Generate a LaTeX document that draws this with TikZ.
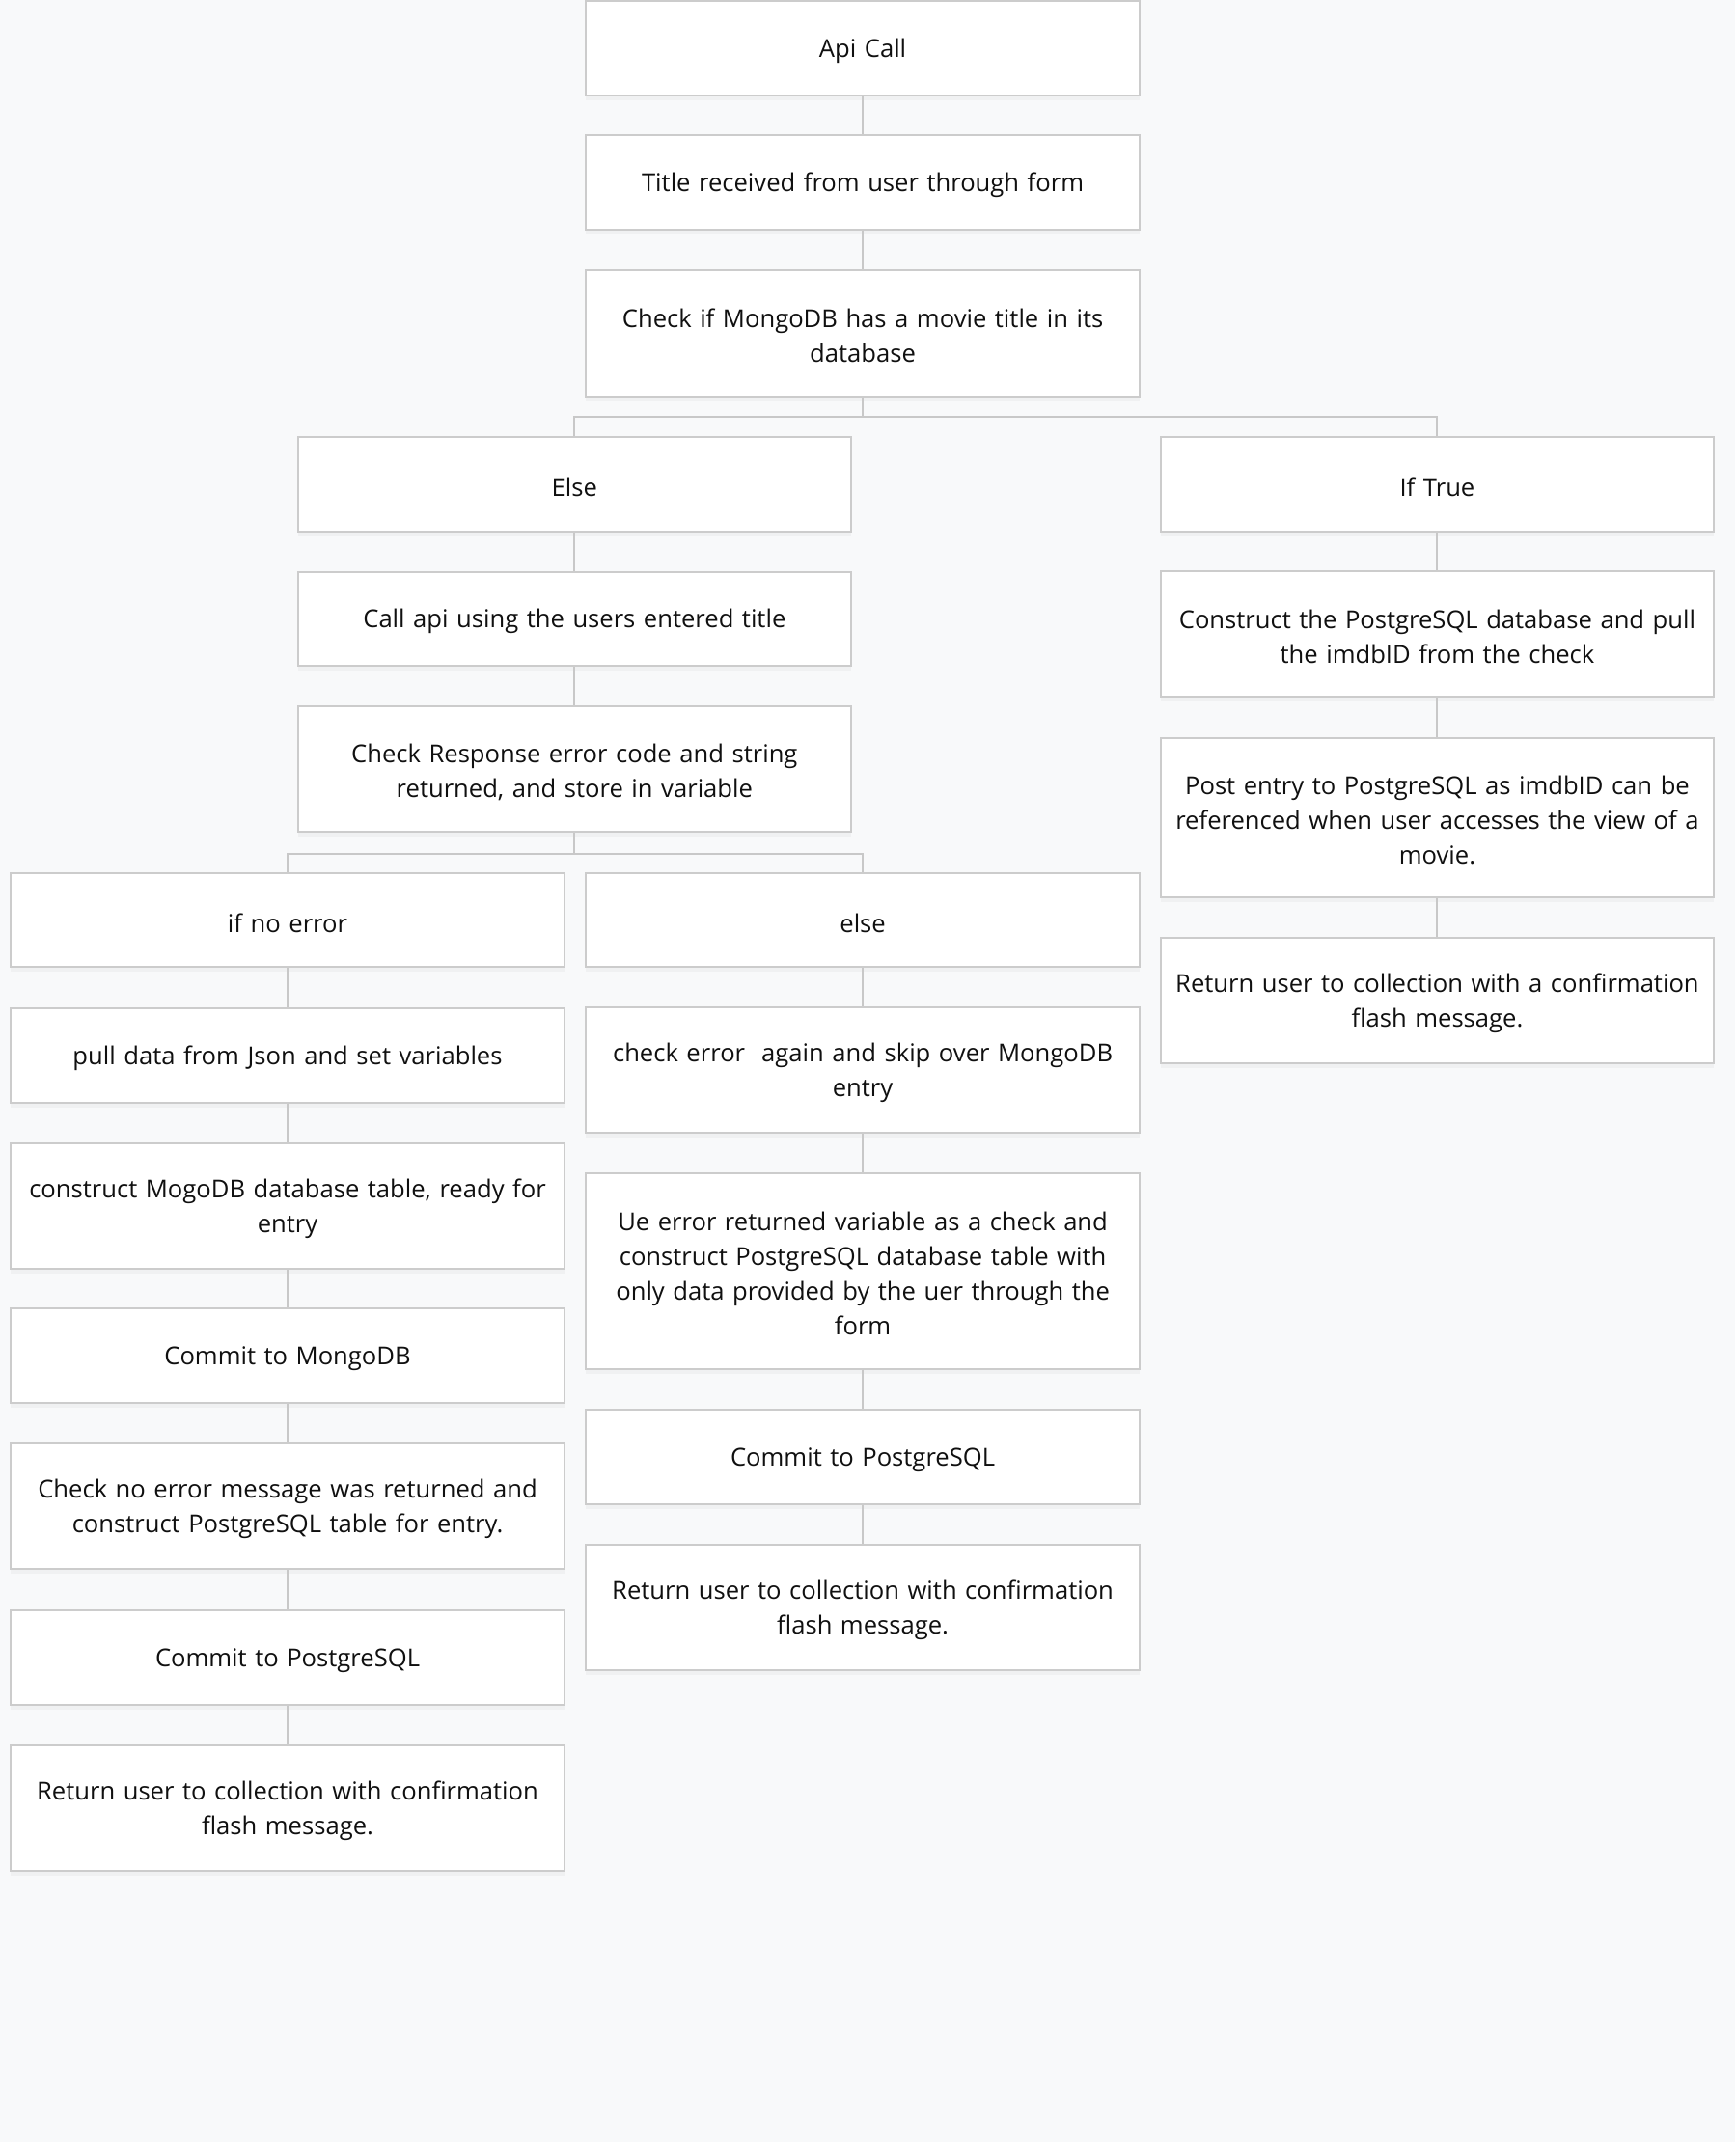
\documentclass[tikz,border=0pt]{standalone}
\usepackage{fontspec}
\setmainfont{Open Sans}
\usetikzlibrary{shadows}
\definecolor{bg}{HTML}{F8F9FA}
\definecolor{boxline}{HTML}{CCCCCC}
\definecolor{conn}{HTML}{C8C8C8}
\definecolor{txt}{HTML}{101010}
\tikzset{
  box/.style={draw=boxline, line width=1pt, fill=white, rectangle,
    minimum width=286.7pt, text width=278pt, align=center, inner xsep=3pt,
    font=\fontsize{12.8}{18}\selectfont, text=txt,
    execute at begin node={\rule{0pt}{12.6pt}},
    drop shadow={opacity=0.06, shadow xshift=0pt, shadow yshift=-2.5pt}},
  h1/.style={box, minimum height=48.8pt},
  h2/.style={box, minimum height=65.1pt},
  h3/.style={box, minimum height=82.8pt},
  h4/.style={box, minimum height=101.2pt},
  link/.style={draw=conn, line width=1pt}
}
\begin{document}
\begin{tikzpicture}[x=0.70787pt, y=-0.70787pt]
\fill[bg] (0,0) rectangle (1270,1568);
\useasboundingbox (0,0) rectangle (1270,1568);
% column C top
\node[h1] (n1) at (631.5,35.5) {Api Call};
\node[h1] (n2) at (631.5,133.5) {Title received from user through form};
\node[h2] (n3) at (631.5,244) {Check if MongoDB has a movie title in its\\database};
% branch 1
\node[h1] (n4) at (420.5,354.5) {Else};
\node[h1] (n5) at (1052,354.5) {If True};
\node[h1] (n6) at (420.5,453) {Call api using the users entered title};
\node[h2] (n7) at (420.5,563) {Check Response error code and string\\returned, and store in variable};
% right column
\node[h2] (n8) at (1052,464) {Construct the PostgreSQL database and pull\\the imdbID from the check};
\node[h3] (n9) at (1052,598.5) {Post entry to PostgreSQL as imdbID can be\\referenced when user accesses the view of a\\movie.};
\node[h2] (n10) at (1052,732.5) {Return user to collection with a confirmation\\flash message.};
% branch 2
\node[h1] (n11) at (210.5,673.5) {if no error};
\node[h1] (n12) at (631.5,673.5) {else};
\node[h1] (n13) at (210.5,772.5) {pull data from Json and set variables};
\node[h2] (n14) at (210.5,883) {construct MogoDB database table, ready for\\entry};
\node[h1] (n15) at (210.5,992.5) {Commit to MongoDB};
\node[h2] (n16) at (210.5,1102.5) {Check no error message was returned and\\construct PostgreSQL table for entry.};
\node[h1] (n17) at (210.5,1213.5) {Commit to PostgreSQL};
\node[h2] (n18) at (210.5,1323.5) {Return user to collection with confirmation\\flash message.};
\node[h2] (n19) at (631.5,783.5) {check error~ again and skip over MongoDB\\entry};
\node[h4] (n20) at (631.5,930.5) {Ue error returned variable as a check and\\construct PostgreSQL database table with\\only data provided by the uer through the\\form};
\node[h1] (n21) at (631.5,1066.5) {Commit to PostgreSQL};
\node[h2] (n22) at (631.5,1176.5) {Return user to collection with confirmation\\flash message.};
% connectors
\coordinate (j1) at (631.5,305);
\coordinate (j2) at (420.5,625);
\draw[link] (n1.south) -- (n2.north);
\draw[link] (n2.south) -- (n3.north);
\draw[link] (n3.south) -- (j1);
\draw[link] (n4.north) |- (j1);
\draw[link] (n5.north) |- (j1);
\draw[link] (n4.south) -- (n6.north);
\draw[link] (n6.south) -- (n7.north);
\draw[link] (n5.south) -- (n8.north);
\draw[link] (n8.south) -- (n9.north);
\draw[link] (n9.south) -- (n10.north);
\draw[link] (n7.south) -- (j2);
\draw[link] (n11.north) |- (j2);
\draw[link] (n12.north) |- (j2);
\draw[link] (n11.south) -- (n13.north);
\draw[link] (n13.south) -- (n14.north);
\draw[link] (n14.south) -- (n15.north);
\draw[link] (n15.south) -- (n16.north);
\draw[link] (n16.south) -- (n17.north);
\draw[link] (n17.south) -- (n18.north);
\draw[link] (n12.south) -- (n19.north);
\draw[link] (n19.south) -- (n20.north);
\draw[link] (n20.south) -- (n21.north);
\draw[link] (n21.south) -- (n22.north);
\end{tikzpicture}
\end{document}
